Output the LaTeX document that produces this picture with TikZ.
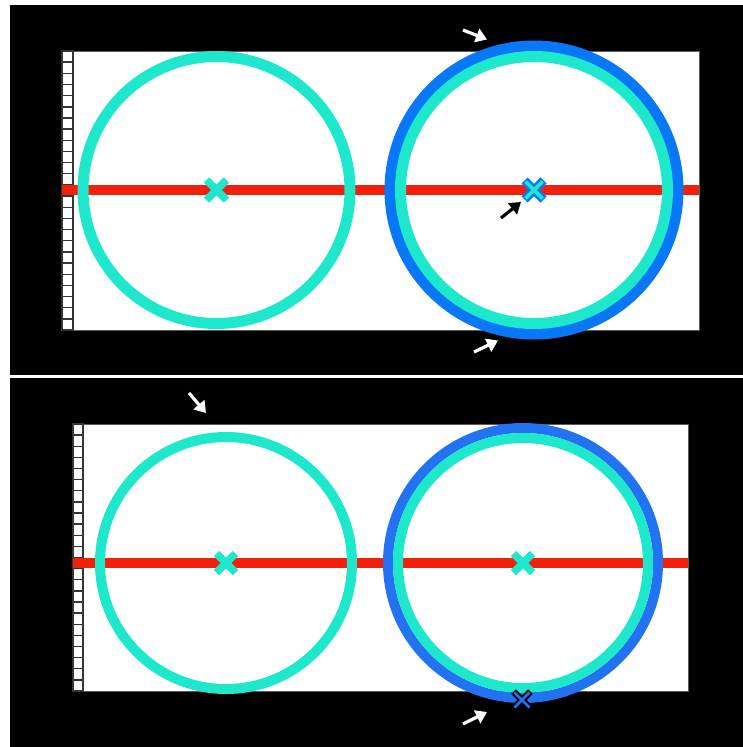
\documentclass[tikz,border=0pt]{standalone}
\usepackage{xcolor}
\usepackage{tikz}
\usetikzlibrary{arrows.meta}
\definecolor{ciRing}{HTML}{1DE8CB}
\definecolor{ciBlue}{HTML}{0878F8}
\definecolor{ciBlueB}{HTML}{2272F2}
\definecolor{ciAxis}{HTML}{F0200C}
\definecolor{ciEdge}{HTML}{5A5A5A}
\tikzset{
  panel/.style={fill=black},
  field/.style={fill=white, draw=ciEdge, line width=1pt},
  tick/.style={fill=white, draw=ciEdge!60!black, line width=1.4pt},
  axisbar/.style={draw=ciAxis, line width=10pt},
  ring/.style={draw=ciRing, line width=11pt},
  outerring/.style={draw=ciBlue, line width=11pt},
  xarm/.style={draw=ciRing, line width=7.5pt},
  pointer/.style={-{Triangle[length=11pt, width=14pt]}, line width=3.2pt, white}
}
\begin{document}
\begin{tikzpicture}[x=1pt, y=-1pt]
  \useasboundingbox[fill=white] (0,0) rectangle (743,747);
  % upper view
  \fill[panel] (10,5) rectangle (743,375);
  \draw[field] (73,51) rectangle (699,330);
  \foreach \i in {0,...,24}
    \draw[tick] (62,{51+\i*11.16}) rectangle ++(11,11.16);
  \coordinate (uL) at (216.5,190);
  \coordinate (uR) at (534,190);
  \draw[axisbar] (62,190) -- (699,190);
  \draw[ring] (uL) circle (133.5);
  \draw[outerring] (uR) circle (144);
  \draw[ring] (uR) circle (133.5);
  \draw[xarm] (uL) ++(-10,-10) -- ++(20,20) (uL) ++(-10,10) -- ++(20,-20);
  \draw[xarm, draw=ciBlue, line width=8.5pt] (uR) ++(-9.5,-9.5) -- ++(19,19) (uR) ++(-9.5,9.5) -- ++(19,-19);
  \draw[xarm, line width=3.8pt] (uR) ++(-8.5,-8.5) -- ++(17,17) (uR) ++(-8.5,8.5) -- ++(17,-17);
  \coordinate (p1s) at (463,30);
  \coordinate (p1e) at (487,39.5);
  \coordinate (p2s) at (501,218);
  \coordinate (p2e) at (521,202);
  \coordinate (p3s) at (474,352);
  \coordinate (p3e) at (498,340.5);
  \draw[pointer] (p1s) -- (p1e);
  \draw[pointer, black] (p2s) -- (p2e);
  \draw[pointer] (p3s) -- (p3e);
  % lower view
  \fill[panel] (10,378) rectangle (743,747);
  \draw[field] (83,424) rectangle (688,691);
  \foreach \i in {0,...,23}
    \draw[tick] (73,{424+\i*11.125}) rectangle ++(10,11.125);
  \coordinate (lL) at (226,563);
  \coordinate (lR) at (523,563);
  \coordinate (lB) at (522,700);
  \draw[axisbar] (73,563) -- (688,563);
  \draw[ring, line width=10pt] (lL) circle (126);
  \draw[outerring, draw=ciBlueB, line width=10pt] (lR) circle (135);
  \draw[ring, line width=10pt] (lR) circle (125);
  \draw[xarm] (lR) ++(-9.5,-9.5) -- ++(19,19) (lR) ++(-9.5,9.5) -- ++(19,-19);
  \draw[xarm] (lL) ++(-9.5,-9.5) -- ++(19,19) (lL) ++(-9.5,9.5) -- ++(19,-19);
  \draw[xarm, draw=black, line width=6.5pt] (lB) ++(-8.5,-8.5) -- ++(17,17) (lB) ++(-8.5,8.5) -- ++(17,-17);
  \draw[xarm, draw=ciBlueB, line width=2.5pt] (lB) ++(-7.5,-7.5) -- ++(15,15) (lB) ++(-7.5,7.5) -- ++(15,-15);
  \coordinate (p4s) at (189,393);
  \coordinate (p4e) at (206,413);
  \coordinate (p5s) at (463,724);
  \coordinate (p5e) at (487,712);
  \draw[pointer] (p4s) -- (p4e);
  \draw[pointer] (p5s) -- (p5e);
\end{tikzpicture}
\end{document}
